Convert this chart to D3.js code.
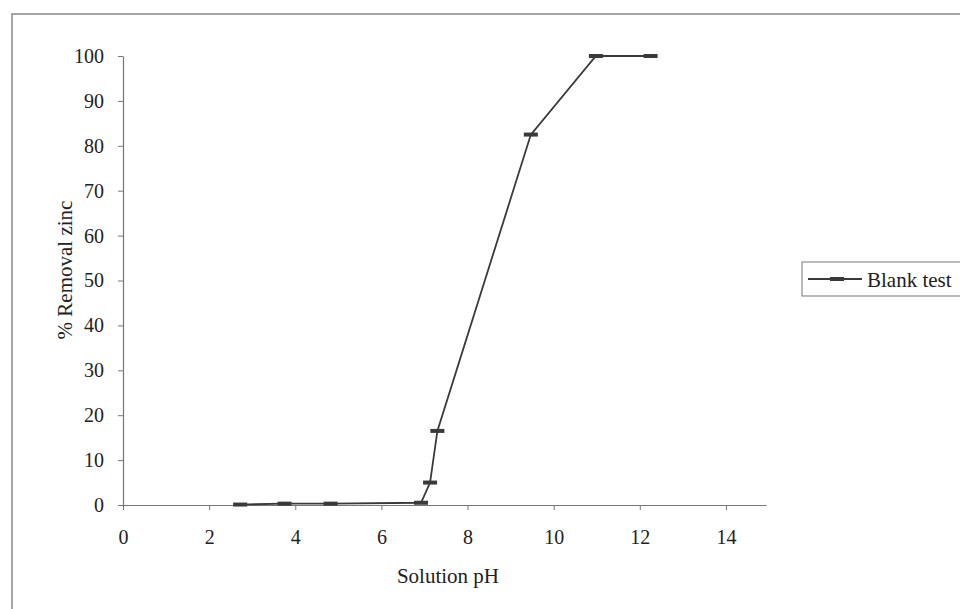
<!DOCTYPE html>
<html>
<head>
<meta charset="utf-8">
<script src="https://cdn.jsdelivr.net/npm/d3@7"></script>
<style>
  body { margin: 0; background: #fff; }
  svg { display: block; }
  text { font-family: "Liberation Serif", "Times New Roman", serif; fill: #222; }
</style>
</head>
<body>
<svg id="chart" width="960" height="609"></svg>
<script>
const seriesName = "Blank test";
const phValues = [2.72, 3.75, 4.82, 6.92, 7.13, 7.3, 9.47, 10.98, 12.25];
const removalValues = [0.1, 0.3, 0.3, 0.5, 5, 16.5, 82.5, 100, 100];
const xTicks = [0, 2, 4, 6, 8, 10, 12, 14];
const yTicks = [0, 10, 20, 30, 40, 50, 60, 70, 80, 90, 100];
const xLabel = "Solution pH";
const yLabel = "% Removal zinc";

const svg = d3.select("#chart");
const ink = "#3a3a3a";

// outer frame
svg.append("path")
  .attr("d", "M12,609 L12,14 L960,14")
  .attr("fill", "none").attr("stroke", "#888").attr("stroke-width", 1.5);

const x = d3.scaleLinear().domain([0, 14.93]).range([123, 766]);
const y = d3.scaleLinear().domain([0, 100]).range([505, 56]);

// x axis
const xAxis = d3.axisBottom(x).tickValues(xTicks).tickSize(5).tickPadding(20).tickSizeOuter(0);
const gx = svg.append("g").attr("transform", "translate(0,505)").call(xAxis);
gx.select(".domain").attr("stroke", "#777").attr("stroke-width", 1.2);
gx.selectAll(".tick line").attr("stroke", "#777");
gx.selectAll("text").attr("font-size", 20).attr("fill", "#222")
  .style("font-family", '"Liberation Serif", serif');

// y axis
const yAxis = d3.axisLeft(y).tickValues(yTicks).tickSize(5).tickPadding(14).tickSizeOuter(0);
const gy = svg.append("g").attr("transform", "translate(123,0)").call(yAxis);
gy.select(".domain").attr("stroke", "#777").attr("stroke-width", 1.2);
gy.selectAll(".tick line").attr("stroke", "#777");
gy.selectAll("text").attr("font-size", 20).attr("fill", "#222")
  .style("font-family", '"Liberation Serif", serif');

// labels
svg.append("text").attr("x", 448).attr("y", 583).attr("text-anchor", "middle")
  .attr("font-size", 21).text(xLabel);
svg.append("text").attr("transform", "translate(72,270) rotate(-90)")
  .attr("text-anchor", "middle").attr("font-size", 21).text(yLabel);

// data
const data = phValues.map((v, i) => ({ x: v, y: removalValues[i] }));
const line = d3.line().x(d => x(d.x)).y(d => y(d.y));
svg.append("path").datum(data).attr("d", line)
  .attr("fill", "none").attr("stroke", ink).attr("stroke-width", 1.8);
svg.selectAll("rect.mk").data(data).enter().append("rect").attr("class", "mk")
  .attr("x", d => x(d.x) - 7).attr("y", d => y(d.y) - 2)
  .attr("width", 14).attr("height", 4).attr("fill", ink);

// legend
const lg = svg.append("g");
lg.append("rect").attr("x", 802).attr("y", 262).attr("width", 170).attr("height", 34)
  .attr("fill", "#fff").attr("stroke", "#777").attr("stroke-width", 1);
lg.append("line").attr("x1", 808).attr("x2", 862).attr("y1", 279).attr("y2", 279)
  .attr("stroke", ink).attr("stroke-width", 1.8);
lg.append("rect").attr("x", 830).attr("y", 277).attr("width", 14).attr("height", 4).attr("fill", ink);
lg.append("text").attr("x", 867).attr("y", 287).attr("font-size", 21).text(seriesName);
</script>
</body>
</html>
